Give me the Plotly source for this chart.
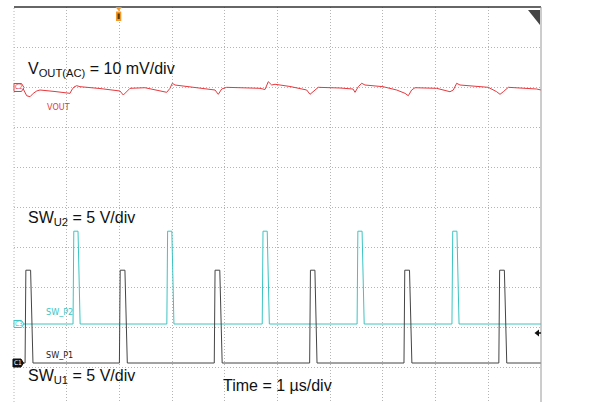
import plotly.graph_objects as go

# ---------------- data (read from the scope capture) ----------------
# time axis in microseconds (1 us/div), trigger at t = 0
# SW_P1 (C1), volts
p1_t = [-2.0, -1.79, -1.775, -1.685, -1.64,
        0.00, 0.015, 0.105, 0.15,
        1.80, 1.815, 1.905, 1.95,
        3.61, 3.625, 3.71, 3.75,
        5.40, 5.415, 5.505, 5.55,
        7.20, 7.215, 7.305, 7.35, 8.0]
p1_v = [0, 0, 11.6, 11.6, 0,
        0, 11.6, 11.6, 0,
        0, 11.6, 11.6, 0,
        0, 11.6, 11.6, 0,
        0, 11.6, 11.6, 0,
        0, 11.6, 11.6, 0, 0]

# SW_P2 (C3), volts
p2_t = [-2.0, -0.88, -0.865, -0.785, -0.745,
        0.90, 0.915, 0.995, 1.035,
        2.71, 2.725, 2.805, 2.845,
        4.51, 4.525, 4.605, 4.645,
        6.31, 6.325, 6.405, 6.445, 8.0]
p2_v = [0, 0, 11.6, 11.6, 0,
        0, 11.6, 11.6, 0,
        0, 11.6, 11.6, 0,
        0, 11.6, 11.6, 0,
        0, 11.6, 11.6, 0, 0]

# VOUT (C2), AC coupled, millivolts
vout_t = [-1.824, -1.759, -1.696, -1.634, -1.569, -1.507, -1.222, -0.937, -0.905, -0.861,
          -0.810, -0.748, -0.368, 0.011, 0.074, 0.139, 0.201, 0.486, 0.898, 0.960,
          1.004, 1.055, 1.435, 1.814, 1.877, 1.941, 2.036, 2.668, 2.763, 2.825,
          2.890, 2.953, 3.237, 3.554, 3.617, 3.712, 3.774, 4.186, 4.433, 4.471,
          4.533, 4.598, 4.660, 5.002, 5.262, 5.419, 5.482, 5.546, 5.609, 6.021,
          6.273, 6.336, 6.400, 6.463, 7.000, 7.159, 7.222, 7.285, 7.380, 7.918, 8.0]
vout_mv = [-0.5, -2.18, -2.43, -1.58, -1.0, -0.75, -1.13, -1.58, -0.75, 0.0,
           0.33, 0.08, -0.38, -1.0, -2.0, -1.0, -0.33, -0.18, -1.33, -0.33,
           0.93, 0.5, -0.13, -0.75, -1.83, -0.5, -0.08, -0.33, -0.63, 1.33,
           0.5, 0.68, 0.13, -0.75, -1.83, -0.75, -0.08, -0.25, -0.5, -1.33,
           0.08, 0.93, 0.5, 0.08, -0.75, -1.58, -2.18, -0.75, -0.18, -0.33,
           -1.18, -0.75, 0.93, 0.5, -0.08, -1.18, -1.83, -1.18, -0.08, -0.5, -0.75]

# channel scales: display ranges chosen so each channel sits where the scope put it
x_range = [-2, 8]                 # 10 div x 1 us
vout_range = [-78.75, 20]         # 10 mV/div (also carries the graticule)
sw2_range = [-9.75, 39.625]       # 5 V/div
sw1_range = [-4.875, 44.5]        # 5 V/div

RED = "#e8383d"
CYAN = "#3cc4c4"
DARK = "#454545"
GRID = "#b4b4b4"

fig = go.Figure()
fig.add_trace(go.Scatter(x=vout_t, y=vout_mv, mode="lines", xaxis="x", yaxis="y",
                         line=dict(color=RED, width=1), hoverinfo="skip"))
fig.add_trace(go.Scatter(x=p2_t, y=p2_v, mode="lines", xaxis="x", yaxis="y2",
                         line=dict(color=CYAN, width=1), hoverinfo="skip"))
fig.add_trace(go.Scatter(x=p1_t, y=p1_v, mode="lines", xaxis="x", yaxis="y3",
                         line=dict(color=DARK, width=1), hoverinfo="skip"))

L, R, T, B = 14, 68, 7, 0
W, H = 609, 402
PW, PH = W - L - R, H - T - B


def px(x):
    return (x - L) / PW


def py(y):
    return (H - B - y) / PH


def path(points):
    return "M " + " L ".join(f"{px(a):.5f},{py(b):.5f}" for a, b in points) + " Z"


axis_common = dict(showticklabels=False, ticks="", zeroline=False, showline=False,
                   showgrid=True, gridcolor=GRID, gridwidth=1, griddash="1px,2px",
                   fixedrange=True)
fig.update_layout(
    width=W, height=H,
    margin=dict(l=L, r=R, t=T, b=B),
    plot_bgcolor="white", paper_bgcolor="white",
    showlegend=False,
    xaxis=dict(range=x_range, tick0=0, dtick=1, **axis_common),
    yaxis=dict(range=vout_range, tick0=0, dtick=10, **axis_common),
    yaxis2=dict(range=sw2_range, overlaying="y", anchor="x", showgrid=False,
                showticklabels=False, ticks="", zeroline=False, showline=False),
    yaxis3=dict(range=sw1_range, overlaying="y", anchor="x", showgrid=False,
                showticklabels=False, ticks="", zeroline=False, showline=False),
)

shapes = []
# frame: dark top edge, grey right edge, dotted left edge
shapes.append(dict(type="line", xref="paper", yref="paper", x0=0, x1=1, y0=1, y1=1,
                   line=dict(color="#333333", width=1.5)))
shapes.append(dict(type="line", xref="paper", yref="paper", x0=1, x1=1, y0=0, y1=1,
                   line=dict(color="#9a9a9a", width=1)))
shapes.append(dict(type="line", xref="paper", yref="paper", x0=0, x1=0, y0=0, y1=1,
                   line=dict(color=GRID, width=1, dash="1px,2px")))
# trigger marker
shapes.append(dict(type="path", xref="paper", yref="paper",
                   path=path([(115.5, 7), (122, 7), (118.7, 11)]),
                   fillcolor="#f39a2a", line=dict(width=0)))
shapes.append(dict(type="rect", xref="paper", yref="paper",
                   x0=px(116), x1=px(121.3), y0=py(21), y1=py(11.5),
                   fillcolor="#f39a2a", line=dict(width=0)))
shapes.append(dict(type="rect", xref="paper", yref="paper",
                   x0=px(117.6), x1=px(119.8), y0=py(19), y1=py(13.5),
                   fillcolor="#5a3a10", line=dict(width=0)))
# top-right corner flag
shapes.append(dict(type="path", xref="paper", yref="paper",
                   path=path([(528, 10), (540, 10), (540, 25)]),
                   fillcolor="#444444", line=dict(width=0)))
# right-side arrow
shapes.append(dict(type="path", xref="paper", yref="paper",
                   path=path([(534.5, 333), (539, 329.5), (539, 336.5)]),
                   fillcolor="#111111", line=dict(width=0)))
shapes.append(dict(type="line", xref="paper", yref="paper",
                   x0=px(538), x1=px(541), y0=py(333), y1=py(333),
                   line=dict(color="#111111", width=1.5)))
# channel markers
shapes.append(dict(type="path", xref="paper", yref="paper",
                   path=path([(14, 83.5), (21.5, 83.5), (24, 87.5), (21.5, 91.5), (14, 91.5)]),
                   fillcolor="white", line=dict(color=RED, width=1)))
shapes.append(dict(type="path", xref="paper", yref="paper",
                   path=path([(14, 320.5), (21.5, 320.5), (24, 324), (21.5, 327.5), (14, 327.5)]),
                   fillcolor="white", line=dict(color=CYAN, width=1)))
shapes.append(dict(type="path", xref="paper", yref="paper",
                   path=path([(13, 359), (21, 359), (23.5, 363), (21, 367), (13, 367)]),
                   fillcolor="#111111", line=dict(color="#111111", width=1)))
fig.update_layout(shapes=shapes)

big = dict(family="Liberation Sans, Arial, sans-serif", size=16, color="#111111")
small = "DejaVu Sans Condensed, Liberation Sans Narrow, Arial Narrow, sans-serif"
ann = []


def add_text(text, x, y, font, xanchor="left"):
    ann.append(dict(text=text, xref="paper", yref="paper", x=px(x), y=py(y),
                    xanchor=xanchor, yanchor="middle", showarrow=False, font=font,
                    borderpad=0))


add_text("V<sub>OUT(AC)</sub> = 10 mV/div", 27, 70, big)
add_text("SW<sub>U2</sub> = 5 V/div", 27, 218.5, big)
add_text("SW<sub>U1</sub> = 5 V/div", 27, 376.5, big)
add_text("Time = 1 µs/div", 222, 385.5, big)
add_text("VOUT", 46, 106.5, dict(family=small, size=9, color=RED))
add_text("SW_P2", 45, 311.5, dict(family=small, size=9, color=CYAN))
add_text("SW_P1", 45, 355, dict(family=small, size=9, color="#222222"))
add_text("C2", 18.5, 87.5, dict(family=small, size=6.5, color=RED), xanchor="center")
add_text("C3", 18.5, 324, dict(family=small, size=6.5, color=CYAN), xanchor="center")
add_text("C1", 17.5, 363, dict(family=small, size=6.5, color="white"), xanchor="center")
fig.update_layout(annotations=ann)

fig.write_html("out.html", config={"displayModeBar": False, "staticPlot": True},
               post_script="document.body.style.margin='0';document.body.style.overflow='hidden';")
